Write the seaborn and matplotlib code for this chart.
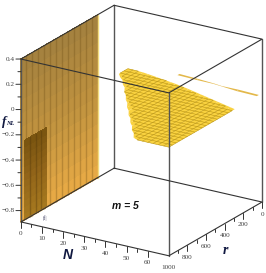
import numpy as np
import matplotlib
matplotlib.use("Agg")
import matplotlib.pyplot as plt
from mpl_toolkits.mplot3d import proj3d
import seaborn as sns

# Wall and surface
n_ticks = [0, 10, 20, 30, 40, 50, 60]
r_ticks = [0, 200, 400, 600, 800, 1000]
f_ticks = [0.4, 0.2, 0, -0.2, -0.4, -0.6, -0.8]

wall_r_end = 174
inner_r = [730, 960]
inner_top = -0.26

surf_n = [10, 12.5, 15, 17.5, 20, 22.5, 25, 27.5, 30, 32.5, 35, 37.5, 40,
          42.5, 45, 47.5, 50, 52.5, 55, 57.5, 60, 62.5, 65, 67.5, 70]
surf_r_lo = [76, 78, 80, 83, 90, 97, 105, 113, 120, 128, 136, 145, 155,
             166, 178, 189, 201, 212, 224, 235, 247, 258, 270, 281, 293]
surf_r_hi = [175, 218, 250, 303, 340, 400, 440, 498, 538, 598, 637, 695, 732,
             790, 828, 886, 923, 981, 1000, 1000, 1000, 1000, 1000, 1000, 1000]
surf_f = -0.03

strip_n = [30.6, 40, 48, 52, 60, 69.8]
strip_r_lo = [-8, 2, 14, 24, 22, 30]
strip_r_hi = [14, 20, 21, 29, 46, 52]

N_MAX, F_MIN, F_MAX = 70, -0.89, 0.4

sns.set_theme(style="white", font="Liberation Serif")
wall_cols = sns.blend_palette(["#a5823f", "#c0933f", "#e6a945"], 12)
inner_cols = sns.blend_palette(["#7a5510", "#93661a", "#a5781f"], 12)
ink = "#333333"
grey = "#444444"

fig = plt.figure(figsize=(2.66, 2.73), dpi=100)
ax = fig.add_axes([-9.5 / 266, -8.5 / 273, 294 / 266, 294 / 273],
                  projection="3d", computed_zorder=False)
ax.set_proj_type("ortho")
ax.view_init(elev=21.3, azim=-57.8)
ax.set_box_aspect((1, 1, 1))
ax.set_xlim(0, N_MAX)
ax.set_ylim(1000, 0)
ax.set_zlim(F_MIN, F_MAX)
ax.set_axis_off()
ax.patch.set_alpha(0)


def vertical_sheet(r_a, r_b, f_a, f_b, cols, n, z):
    rr, ff = np.meshgrid([r_a, r_b], np.linspace(f_b, f_a, len(cols) + 1))
    fc = np.array([[c + (1,)] for c in cols])
    ax.plot_surface(np.full(rr.shape, n), rr, ff, facecolors=fc, shade=False,
                    linewidth=0, antialiased=False, rstride=1, cstride=1, zorder=z)


def label3d(n, r, f, s, ha="center"):
    # plain 2D text placed through the 3D projection
    x, y, _ = proj3d.proj_transform(n, r, f, ax.get_proj())
    ax.text2D(x, y, s, transform=ax.transData, ha=ha, va="center",
              fontsize=5.2, color=grey)


# big wall at N = 0
vertical_sheet(1000, wall_r_end, F_MIN, F_MAX, wall_cols, 0, 1)
for r in np.arange(wall_r_end + 60, 1000, 65):
    ax.plot([0, 0], [r, r], [F_MIN, F_MAX], color="#6b4a12", alpha=0.3, lw=1.0, zorder=2)
# darker piece near the front
vertical_sheet(inner_r[1], inner_r[0], F_MIN, inner_top, inner_cols, 0, 3)
for r in [780, 840, 900]:
    ax.plot([0, 0], [r, r], [F_MIN, inner_top], color="#4d3408", alpha=0.35, lw=1.0, zorder=3)
ax.plot([0, 0], [wall_r_end, wall_r_end], [F_MIN, F_MAX], color="#f2dc80", lw=1.0, zorder=3)
ax.plot([0, 0], [1000, wall_r_end], [F_MIN, F_MIN], color="#d0912c", lw=1.0, zorder=3)

# flat yellow surface: fill, then mesh on top
fill_n = np.array([surf_n, surf_n])
fill_r = np.array([surf_r_lo, surf_r_hi])
ax.plot_surface(fill_n, fill_r, np.full(fill_n.shape, surf_f), color="#f9d240",
                linewidth=0, shade=False, rstride=1, cstride=1, zorder=4)
r_mesh = np.arange(40, 1001, 40)
nn, rr = np.meshgrid(surf_n, r_mesh)
ff = np.where((rr >= np.array(surf_r_lo)) & (rr <= np.array(surf_r_hi)), surf_f, np.nan)
ax.plot_wireframe(nn, rr, ff, color="#b8920f", linewidth=0.38, rstride=1, cstride=1, zorder=4)

strip_nn = np.array([strip_n, strip_n])
strip_rr = np.array([strip_r_lo, strip_r_hi])
ax.plot_surface(strip_nn, strip_rr, np.full(strip_nn.shape, surf_f), color="#e3b84a",
                linewidth=0, shade=False, rstride=1, cstride=1, zorder=4)

# box
for n, r in [(0, 0), (0, 1000), (N_MAX, 1000), (N_MAX, 0)]:
    ax.plot([n, n], [r, r], [F_MIN, F_MAX], color="#555555", lw=1.0, zorder=5)
for f in [F_MIN, F_MAX]:
    ax.plot([0, N_MAX, N_MAX, 0, 0], [0, 0, 1000, 1000, 0], [f] * 5, color=ink, lw=0.8, zorder=5)

# ticks: f axis goes out to the left of the screen
px_n, px_r = -0.336, 3.08
for f in np.arange(-0.8, 0.41, 0.1):
    size = 5 if abs(round(f * 10)) % 2 == 0 else 3
    ax.plot([0, px_n * size], [1000, 1000 + px_r * size], [f, f], color=ink, lw=0.7, zorder=5)
for f in f_ticks:
    txt = str(f).replace("-", "\u2212")
    label3d(px_n * 6.5, 1000 + px_r * 6.5, f, txt, ha="right")

px_f = 1 / 126
for n in range(0, 61, 5):
    size = 6 if n % 10 == 0 else 3
    ax.plot([n, n], [1000, 1000], [F_MIN, F_MIN - px_f * size], color=ink, lw=0.7, zorder=5)
for n in n_ticks:
    label3d(n, 1000, F_MIN - px_f * 12, str(n))
for r in range(0, 1000, 100):
    size = 6 if r % 200 == 0 else 3
    ax.plot([N_MAX, N_MAX], [r, r], [F_MIN, F_MIN - px_f * size], color=ink, lw=0.7, zorder=5)
for r in r_ticks:
    label3d(N_MAX, r, F_MIN - px_f * 12, str(r))

# labels
navy = "#101840"
fig.text(68 / 266, 1 - 255 / 273, "N", fontsize=10, fontweight="bold", style="italic",
         family="Liberation Sans", color=navy, ha="center", va="center")
fig.text(225 / 266, 1 - 250 / 273, "r", fontsize=10, fontweight="bold", style="italic",
         color=navy, ha="center", va="center")
fig.text(2 / 266, 1 - 122 / 273, "f", fontsize=9.5, fontweight="bold", style="italic",
         color=navy, ha="left", va="center")
fig.text(6.5 / 266, 1 - 124 / 273, "NL", fontsize=4.5, fontweight="bold", style="italic",
         color=navy, ha="left", va="center")
fig.text(125 / 266, 1 - 206 / 273, "m = 5", fontsize=7.5, fontweight="bold", style="italic",
         family="Liberation Sans", color="#111111", ha="center", va="center")
fig.text(45 / 266, 1 - 218 / 273, "|f|", fontsize=4.5, color="#444466", ha="center", va="center")

fig.savefig("out.png", dpi=100)
